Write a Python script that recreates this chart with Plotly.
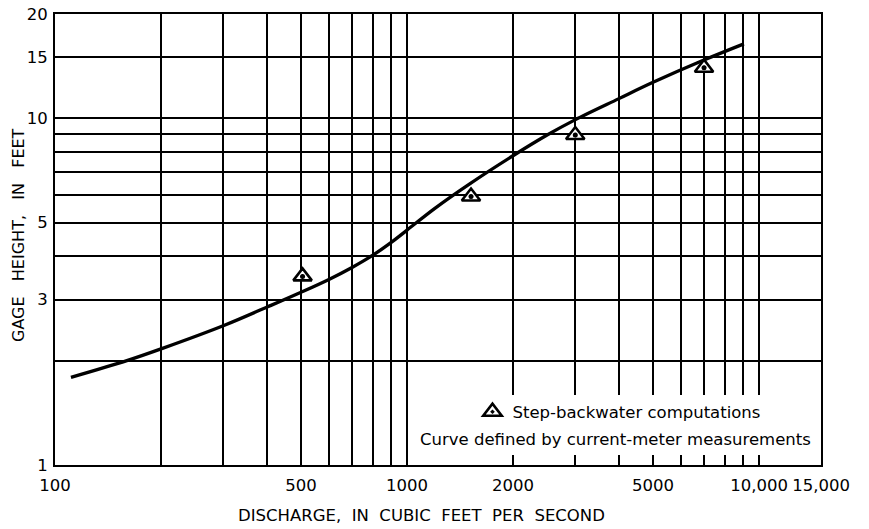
import math
import plotly.graph_objects as go

# Rating curve defined by current-meter measurements (discharge cfs, gage height ft)
curve_q = [111, 160, 202, 303, 402, 500, 600, 700, 800, 900, 1000, 1200, 1500, 2000, 2500, 3000, 4000, 5000, 7000, 9060]
curve_h = [1.79, 2.0, 2.17, 2.53, 2.86, 3.15, 3.43, 3.72, 4.03, 4.38, 4.76, 5.5, 6.45, 7.8, 8.95, 9.9, 11.4, 12.7, 14.75, 16.4]

# Step-backwater computations
step_q = [505, 1520, 3006, 6980]
step_h = [3.5, 5.95, 8.95, 14.0]

# Axis ticks / grid
x_tickvals = [100, 500, 1000, 2000, 5000, 10000, 15000]
x_ticktext = ["100", "500", "1000", "2000", "5000", "10,000", "15,000"]
x_grid = [100, 200, 300, 400, 500, 600, 700, 800, 900,
          1000, 2000, 3000, 4000, 5000, 6000, 7000, 8000, 9000, 10000]
y_tickvals = [1, 3, 5, 10, 15, 20]
y_ticktext = ["1", "3", "5", "10", "15", "20"]
y_grid = [2, 3, 4, 5, 6, 7, 8, 9, 10, 15, 20]

FONT = "DejaVu Sans"
FS = 16.5
SP = "\u00a0 "

fig = go.Figure()
fig.add_trace(go.Scatter(
    x=curve_q, y=curve_h, mode="lines",
    line=dict(color="black", width=3.3, shape="spline", smoothing=1.0),
    name="Curve defined by current-meter measurements", showlegend=False,
))
fig.add_trace(go.Scatter(
    x=step_q, y=step_h, mode="markers",
    marker=dict(symbol="triangle-up-dot", size=16, color="white",
                line=dict(color="black", width=2.6)),
    name="Step-backwater computations", showlegend=True,
    legendgroup="step",
))
fig.add_trace(go.Scatter(
    x=step_q, y=step_h, mode="markers",
    marker=dict(symbol="circle", size=5, color="black"),
    name="Step-backwater computations", showlegend=False,
    legendgroup="step", hoverinfo="skip",
))

grid_style = dict(showgrid=True, gridcolor="black", gridwidth=1.5)
fig.update_xaxes(
    type="log", range=[2, math.log10(15000)], automargin=False,
    tickmode="array", tickvals=x_tickvals, ticktext=x_ticktext,
    minor=dict(tickmode="array", tickvals=x_grid, **grid_style),
    showline=True, mirror=True, linecolor="black", linewidth=2,
    ticks="", zeroline=False, ticklabelstandoff=4, **grid_style,
)
fig.update_yaxes(
    type="log", range=[0, math.log10(20)], automargin=False,
    tickmode="array", tickvals=y_tickvals, ticktext=y_ticktext,
    minor=dict(tickmode="array", tickvals=y_grid, **grid_style),
    showline=True, mirror=True, linecolor="black", linewidth=2,
    ticks="", zeroline=False, ticklabelstandoff=2, **grid_style,
)

fig.update_layout(
    width=869, height=529,
    margin=dict(l=55, r=48, t=14, b=64, autoexpand=False),
    plot_bgcolor="white", paper_bgcolor="white",
    font=dict(family=FONT, size=FS, color="black"),
    legend=dict(x=0.545, y=0.1175, xanchor="left", yanchor="middle",
                bgcolor="rgba(0,0,0,0)", borderwidth=0,
                font=dict(family=FONT, size=FS, color="black")),
    shapes=[dict(type="rect", xref="paper", yref="paper",
                 x0=0.47, x1=0.996, y0=0.022, y1=0.155,
                 fillcolor="white", line=dict(width=0), layer="above")],
    annotations=[
        dict(text="Curve defined by current-meter measurements",
             xref="paper", yref="paper", x=0.732, y=0.0576,
             xanchor="center", yanchor="middle", showarrow=False,
             font=dict(family=FONT, size=FS, color="black")),
        dict(text=SP.join(["DISCHARGE,", "IN", "CUBIC", "FEET", "PER", "SECOND"]),
             xref="paper", yref="paper", x=0.478, y=0, yshift=-50,
             xanchor="center", yanchor="middle", showarrow=False,
             font=dict(family=FONT, size=FS, color="black")),
        dict(text=("\u00a0\u00a0 ").join(["GAGE", "HEIGHT,", "IN", "FEET"]),
             xref="paper", yref="paper", x=0, xshift=-36, y=0.51,
             xanchor="center", yanchor="middle", textangle=-90, showarrow=False,
             font=dict(family=FONT, size=16, color="black")),
    ],
)

fig.write_html("out.html")
